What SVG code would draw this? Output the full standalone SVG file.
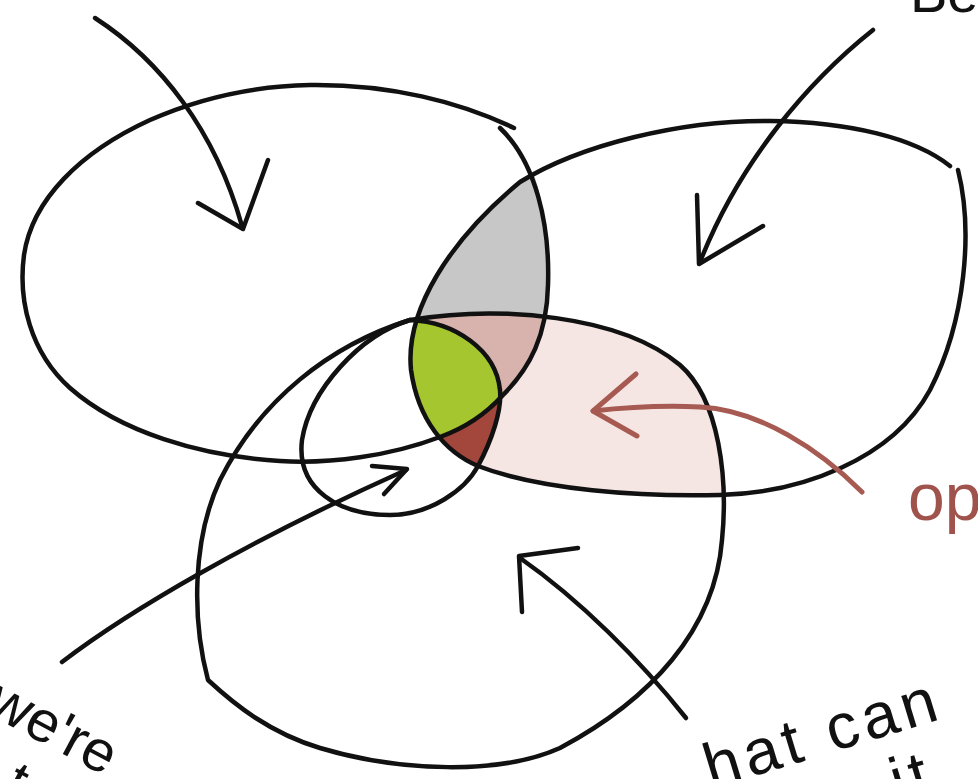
<svg xmlns="http://www.w3.org/2000/svg" width="978" height="779" viewBox="0 0 978 779">
<style>
.ln{fill:none;stroke:#111;stroke-width:4.5;stroke-linecap:round;stroke-linejoin:round}
.rd{fill:none;stroke:#a65a52;stroke-width:5;stroke-linecap:round;stroke-linejoin:round}
.tx{font-family:"Liberation Sans",Arial,sans-serif;fill:#111}
</style>
<defs>
<path id="pA" d="M 310,85 C 390,84 460,102 512,130 C 538,165 550,225 548,285 C 547,335 530,368 503,395 C 485,415 465,428 440,437 C 390,456 330,464 280,461 C 200,456 120,432 70,388 C 30,352 18,300 24,255 C 32,200 80,152 150,120 C 200,98 255,86 310,85 Z"/>
<path id="pB" d="M 520,182 C 580,145 680,120 770,121 C 850,122 915,138 952,168 C 972,230 966,320 930,390 C 892,460 800,493 720,495 C 640,497 540,490 478,466 C 445,452 418,420 411,370 C 405,310 450,240 520,182 Z"/>
<path id="pC" d="M 410,320 C 500,305 620,315 680,365 C 720,400 728,480 722,540 C 715,630 650,700 560,748 C 500,775 400,772 320,748 C 270,733 235,705 208,680 C 192,620 192,540 220,480 C 260,400 330,345 410,320 Z"/>
<path id="pD" d="M 410,320 C 360,335 310,390 302,440 C 296,490 340,515 390,515 C 430,515 465,490 478,466 C 492,440 502,410 500,390 C 496,350 455,322 410,320 Z"/>
<clipPath id="cA"><use href="#pA"/></clipPath>
<clipPath id="cC"><use href="#pC"/></clipPath>
<clipPath id="cD"><use href="#pD"/></clipPath>
</defs>
<rect width="978" height="779" fill="#fff"/>
<g id="regions">
<g clip-path="url(#cC)"><use href="#pB" fill="#f5e6e4"/></g>
<g clip-path="url(#cA)"><use href="#pB" fill="#c7c7c7"/></g>
<g clip-path="url(#cA)"><g clip-path="url(#cC)"><use href="#pB" fill="#d8b2ad"/></g></g>
<g clip-path="url(#cD)"><use href="#pB" fill="#a3463b"/></g>
<g clip-path="url(#cA)"><g clip-path="url(#cD)"><use href="#pB" fill="#a5c62e"/></g></g>
</g>
<g id="set-a"><path class="ln" d="M 500,128 C 536,162 550,225 548,285 C 547,335 530,368 503,395 C 485,415 465,428 440,437 C 390,456 330,464 280,461 C 200,456 120,432 70,388 C 30,352 18,300 24,255 C 32,200 80,152 150,120 C 200,98 255,86 310,85 C 390,84 460,102 514,128"/></g>
<g id="set-b"><path class="ln" d="M 958,170 C 973,230 966,320 930,390 C 892,460 800,493 720,495 C 640,497 540,490 478,466 C 445,452 418,420 411,370 C 405,310 450,240 520,182 C 580,145 680,120 770,121 C 850,122 915,138 950,166"/></g>
<g id="set-c"><use href="#pC" class="ln"/></g>
<g id="set-d"><use href="#pD" class="ln"/></g>
<g id="connectors">
<path class="ln" d="M 95,18 C 160,60 215,130 242,226"/>
<path class="ln" d="M 198,203 L 243,229 L 268,160"/>
<path class="ln" d="M 873,30 C 810,80 740,160 700,262"/>
<path class="ln" d="M 697,195 L 699,264 L 763,226"/>
<path class="ln" d="M 62,662 C 130,610 250,540 406,470"/>
<path class="ln" d="M 372,466 L 407,469 L 384,494"/>
<path class="ln" d="M 686,718 C 640,660 580,600 520,558"/>
<path class="ln" d="M 578,548 L 519,556 L 522,612"/>
<path class="rd" d="M 862,492 C 820,450 760,410 700,407 C 660,405 620,408 593,411"/>
<path class="rd" d="M 636,374 L 593,411 L 637,436"/>
</g>
<g id="labels">
<text class="tx" x="910" y="12" font-size="56">Be</text>
<text class="tx" x="908" y="520" font-size="66" style="fill:#a0524c">op</text>
<text class="tx" x="-16" y="712" font-size="58" transform="rotate(28 -16 712)">we're</text>
<text class="tx" x="2" y="794" font-size="56" transform="rotate(28 2 794)">t</text>
<text class="tx" x="706" y="752" font-size="64" letter-spacing="5" transform="rotate(-17 833 752)">hat can</text>
<text class="tx" x="880" y="820" font-size="64" letter-spacing="5" transform="rotate(-17 833 752)">it</text>
</g>
</svg>
